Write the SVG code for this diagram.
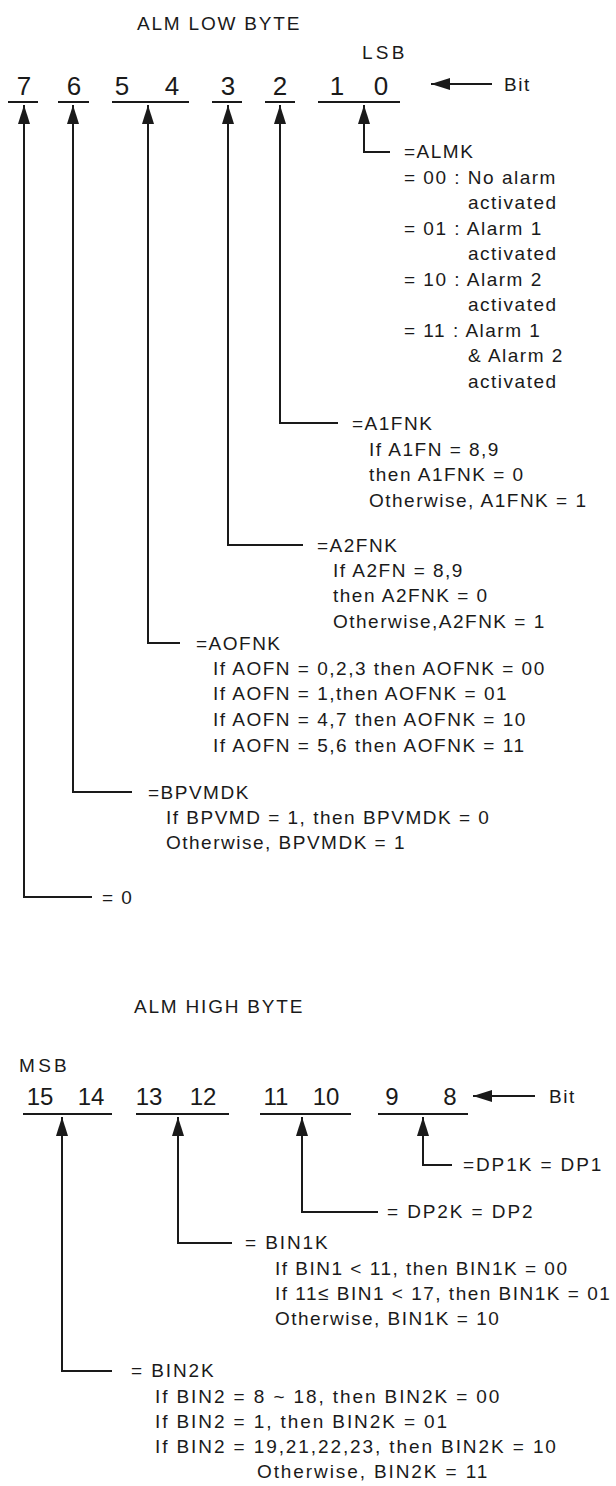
<svg xmlns="http://www.w3.org/2000/svg" width="616" height="1486" viewBox="0 0 616 1486">
<style>
text { font-family: "Liberation Sans", Arial, Helvetica, sans-serif; fill: #1a1a1a; }
.t { font-size: 19px; letter-spacing: 1.5px; }
.b { font-size: 19px; letter-spacing: 1.9px; }
.h { font-size: 19px; letter-spacing: 1.8px; }
.s { font-size: 19px; letter-spacing: 3.3px; }
.d { font-size: 26px; text-anchor: middle; }
.e { font-size: 24px; text-anchor: middle; }
.u { stroke: #1a1a1a; stroke-width: 2; fill: none; }
.c { stroke: #1a1a1a; stroke-width: 2; fill: none; marker-start: url(#ah); }
</style>
<defs>
<marker id="ah" markerUnits="userSpaceOnUse" markerWidth="20" markerHeight="12" refX="19" refY="6" orient="auto-start-reverse" viewBox="0 0 20 12">
<path d="M0,0 L19,6 L0,12 Z" fill="#1a1a1a"/>
</marker>
</defs>

<g id="low-header">
<text class="h" x="137" y="30">ALM LOW BYTE</text>
<text class="s" x="362" y="59">LSB</text>
<text class="d" x="24" y="95">7</text>
<text class="d" x="74" y="95">6</text>
<text class="d" x="122" y="95">5</text>
<text class="d" x="172" y="95">4</text>
<text class="d" x="228" y="95">3</text>
<text class="d" x="280" y="95">2</text>
<text class="d" x="337" y="95">1</text>
<text class="d" x="381" y="95">0</text>
<text class="t" x="504" y="91">Bit</text>
<line class="u" x1="8" y1="102" x2="38" y2="102"/>
<line class="u" x1="58" y1="102" x2="89" y2="102"/>
<line class="u" x1="112" y1="102" x2="189" y2="102"/>
<line class="u" x1="212" y1="102" x2="242" y2="102"/>
<line class="u" x1="265" y1="102" x2="295" y2="102"/>
<line class="u" x1="318" y1="102" x2="400" y2="102"/>
</g>

<g id="almk">
<text class="t" x="404" y="158">=ALMK</text>
<text class="t" x="404" y="183.5">= 00 : No alarm</text>
<text class="t" x="468" y="209">activated</text>
<text class="t" x="404" y="234.5">= 01 : Alarm 1</text>
<text class="t" x="468" y="260">activated</text>
<text class="t" x="404" y="285.5">= 10 : Alarm 2</text>
<text class="t" x="468" y="311">activated</text>
<text class="t" x="404" y="336.5">= 11 : Alarm 1</text>
<text class="t" x="468" y="362">&amp; Alarm 2</text>
<text class="t" x="468" y="387.5">activated</text>
</g>

<g id="a1fnk">
<text class="t" x="352" y="430">=A1FNK</text>
<text class="t" x="369" y="456">If A1FN = 8,9</text>
<text class="t" x="369" y="481">then A1FNK = 0</text>
<text class="t" x="369" y="507">Otherwise, A1FNK = 1</text>
</g>

<g id="a2fnk">
<text class="t" x="317" y="552">=A2FNK</text>
<text class="t" x="333" y="577">If A2FN = 8,9</text>
<text class="t" x="333" y="602">then A2FNK = 0</text>
<text class="t" x="333" y="628">Otherwise,A2FNK = 1</text>
</g>

<g id="aofnk">
<text class="t" x="196" y="650">=AOFNK</text>
<text class="t" x="213" y="675">If AOFN = 0,2,3 then AOFNK = 00</text>
<text class="t" x="213" y="700">If AOFN = 1,then AOFNK = 01</text>
<text class="t" x="213" y="726">If AOFN = 4,7 then AOFNK = 10</text>
<text class="t" x="213" y="752">If AOFN = 5,6 then AOFNK = 11</text>
</g>

<g id="bpvmdk">
<text class="t" x="148" y="799">=BPVMDK</text>
<text class="t" x="166" y="824">If BPVMD = 1, then BPVMDK = 0</text>
<text class="t" x="166" y="849">Otherwise, BPVMDK = 1</text>
</g>

<g id="bit7">
<text class="t" x="102" y="904">= 0</text>
</g>

<g id="high-header">
<text class="h" x="134" y="1013">ALM HIGH BYTE</text>
<text class="s" x="19" y="1072">MSB</text>
<text class="e" x="40" y="1105">15</text>
<text class="e" x="91" y="1105">14</text>
<text class="e" x="149" y="1105">13</text>
<text class="e" x="203" y="1105">12</text>
<text class="e" x="276" y="1105">11</text>
<text class="e" x="326" y="1105">10</text>
<text class="e" x="392" y="1105">9</text>
<text class="e" x="450" y="1105">8</text>
<text class="t" x="549" y="1103">Bit</text>
<line class="u" x1="23" y1="1114" x2="112" y2="1114"/>
<line class="u" x1="136" y1="1114" x2="229" y2="1114"/>
<line class="u" x1="260" y1="1114" x2="351" y2="1114"/>
<line class="u" x1="378" y1="1114" x2="468" y2="1114"/>
</g>

<g id="dp1k">
<text class="b" x="463" y="1171">=DP1K = DP1</text>
</g>

<g id="dp2k">
<text class="b" x="387" y="1218">= DP2K = DP2</text>
</g>

<g id="bin1k">
<text class="b" x="245" y="1249">= BIN1K</text>
<text class="t" x="275" y="1275">If BIN1 &lt; 11, then BIN1K = 00</text>
<text class="t" x="275" y="1300">If 11≤ BIN1 &lt; 17, then BIN1K = 01</text>
<text class="t" x="275" y="1325">Otherwise, BIN1K = 10</text>
</g>

<g id="bin2k">
<text class="b" x="131" y="1377">= BIN2K</text>
<text class="b" x="155" y="1403">If BIN2 = 8 ~ 18, then BIN2K = 00</text>
<text class="b" x="155" y="1428">If BIN2 = 1, then BIN2K = 01</text>
<text class="b" x="155" y="1453">If BIN2 = 19,21,22,23, then BIN2K = 10</text>
<text class="b" x="257" y="1478">Otherwise, BIN2K = 11</text>
</g>

<g id="connectors">
<path class="c" d="M431,84 H492"/>
<path class="c" d="M364,105 V152 H390"/>
<path class="c" d="M280,105 V423 H338"/>
<path class="c" d="M228,105 V545 H303"/>
<path class="c" d="M148,105 V643 H180"/>
<path class="c" d="M73,105 V792 H132"/>
<path class="c" d="M24,105 V897 H92"/>
<path class="c" d="M473,1096 H535"/>
<path class="c" d="M423,1117 V1165 H452"/>
<path class="c" d="M302,1117 V1212 H378"/>
<path class="c" d="M178,1117 V1243 H232"/>
<path class="c" d="M62,1117 V1371 H112"/>
</g>
</svg>
